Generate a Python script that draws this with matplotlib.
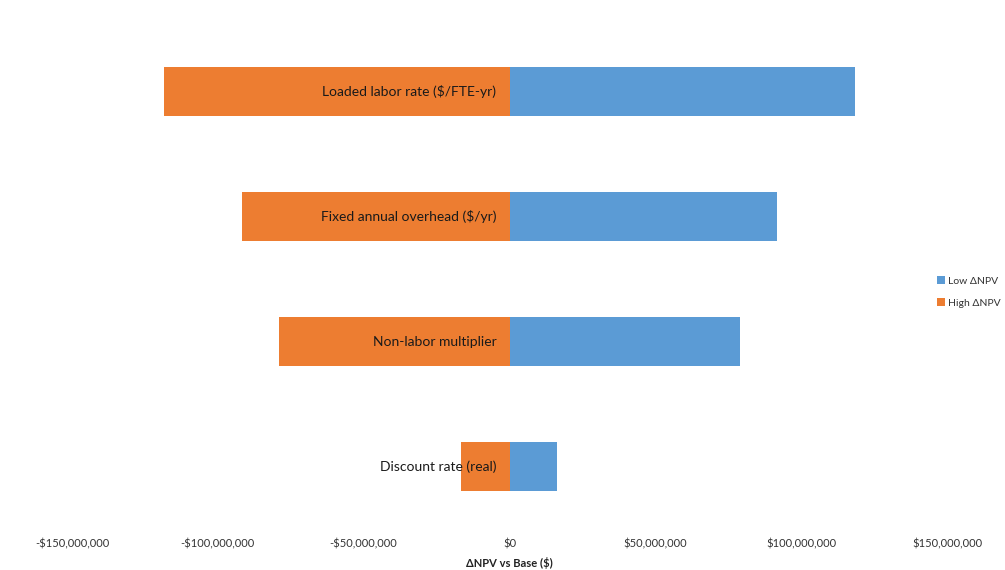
import matplotlib
matplotlib.use("Agg")
import matplotlib.pyplot as plt
from matplotlib.ticker import FuncFormatter

plt.rcParams['font.family'] = ['Lato', 'DejaVu Sans']

categories = ["Loaded labor rate ($/FTE-yr)", "Fixed annual overhead ($/yr)",
              "Non-labor multiplier", "Discount rate (real)"]
low_dnpv = [118.3e6, 91.8e6, 78.9e6, 16.2e6]
high_dnpv = [-118.5e6, -91.6e6, -79.0e6, -16.8e6]
xticks = [-150e6, -100e6, -50e6, 0, 50e6, 100e6, 150e6]

fig = plt.figure(figsize=(10.05, 5.70), dpi=100)
ax = fig.add_axes([72/1005, 1-529/570, (947-72)/1005, 500/570])

ypos = list(range(len(categories)))[::-1]
h = 0.39
ax.barh(ypos, low_dnpv, height=h, color="#5B9BD5", label="Low ΔNPV")
ax.barh(ypos, high_dnpv, height=h, color="#ED7D31", label="High ΔNPV")

for y, c in zip(ypos, categories):
    ax.annotate(c, xy=(0, y), xytext=(-9.5, 0), textcoords="offset points",
                ha="right", va="center", fontsize=10, color="#1a1a1a")

ax.set_xlim(-150e6, 150e6)
ax.set_ylim(-0.5, len(categories) - 0.5)
ax.set_xticks(xticks)
def fmt(v, p):
    if v == 0:
        return "$0"
    s = "${:,.0f}".format(abs(v))
    return "-" + s if v < 0 else s
ax.xaxis.set_major_formatter(FuncFormatter(fmt))
ax.tick_params(axis='x', length=0, labelsize=8, colors="#333333", pad=7)
ax.set_yticks([])
for s in ax.spines.values():
    s.set_visible(False)
ax.set_xlabel("ΔNPV vs Base ($)", fontsize=8, fontweight="bold", color="#222222", labelpad=5)

ax.legend(loc="center left", bbox_to_anchor=(928/1005, 1-292/570), bbox_transform=fig.transFigure,
          frameon=False, fontsize=7.5, handlelength=0.7, handleheight=0.7,
          handletextpad=0.35, labelspacing=1.2, labelcolor="#333333")

fig.savefig("out.png", dpi=100)
